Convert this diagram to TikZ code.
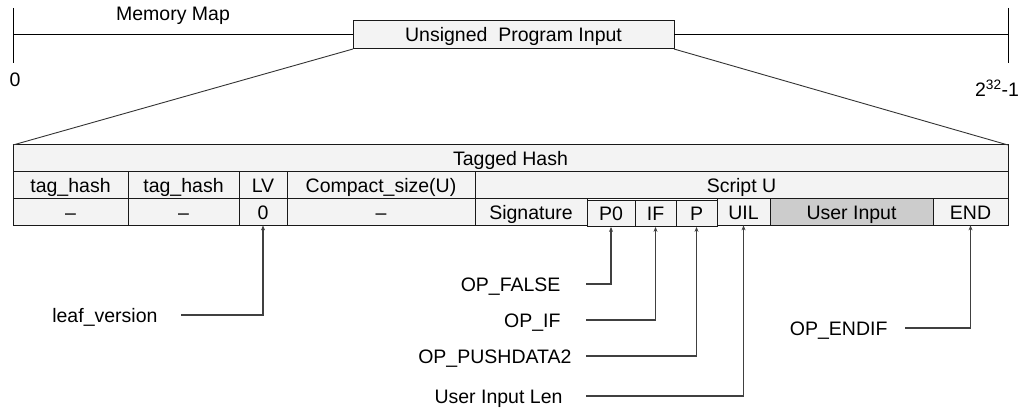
\documentclass[tikz,border=0pt]{standalone}
\usepackage{fontspec}
\setmainfont{Liberation Sans}
\usetikzlibrary{arrows.meta, positioning}
\definecolor{cellgray}{HTML}{F3F3F3}
\definecolor{inputgray}{HTML}{CCCCCC}
\definecolor{linkgray}{HTML}{404040}
\tikzset{every node/.style = {font = \fontsize{19.5}{22}\selectfont,
                              text height = 18pt, text depth = 4pt},
         cell/.style = {draw = black!90, fill = cellgray, line width = 1pt,
                        minimum height = 26.8pt, inner sep = 0pt, outer sep = 0pt},
         link/.style = {draw = linkgray, line width = 1.1pt,
                        -{Stealth[length = 5pt, width = 4pt]}},
         zoomline/.style = {draw = black!80, line width = 0.9pt}}

\begin{document}
\begin{tikzpicture}[x = 1pt, y = -1pt]
        \useasboundingbox (0,0) rectangle (1030,414);

        \node[cell, minimum width = 321pt, minimum height = 28pt, anchor = north west]
                                        (upi)   at (353,21)     {Unsigned\ \ Program Input};
        \node                           (mm)    at (173,14)     {Memory Map};
        \node                           (lo)    at (15,80)      {0};
        \node                           (hi)    at (997,90)     {2\textsuperscript{32}-1};
        \coordinate                     (m0)    at (13,35);
        \coordinate                     (m1)    at (1008,35);
        \draw[line width = 1pt] (13,8) -- (13,63);
        \draw[line width = 1pt] (1008,8) -- (1008,63);
        \draw[line width = 1pt] (m0) -- (upi.west);
        \draw[line width = 1pt] (upi.east) -- (m1);

        \node[cell, minimum width = 995pt, anchor = north west]
                                        (th)    at (13,145)     {Tagged Hash};

        \node[cell, minimum width = 115pt, below right = 0pt and 0pt of th.south west] (h1) {tag\_hash};
        \node[cell, minimum width = 111pt, right = 0pt of h1]  (h2)   {tag\_hash};
        \node[cell, minimum width = 48pt,  right = 0pt of h2]  (lv)   {LV};
        \node[cell, minimum width = 188pt, right = 0pt of lv]  (cs)   {Compact\_size(U)};
        \node[cell, minimum width = 533pt, right = 0pt of cs]  (su)   {Script U};

        \node[cell, minimum width = 115pt, below = 0pt of h1]  (v1)   {–};
        \node[cell, minimum width = 111pt, below = 0pt of h2]  (v2)   {–};
        \node[cell, minimum width = 48pt,  below = 0pt of lv]  (lv0)  {0};
        \node[cell, minimum width = 188pt, below = 0pt of cs]  (cs0)  {–};
        \node[cell, minimum width = 112pt, right = 0pt of cs0] (sig)  {Signature};
        \node[cell, minimum width = 48pt,  right = 0pt of sig, yshift = -1.5pt] (p0) {P0};
        \node[cell, minimum width = 41pt,  right = 0pt of p0]  (if)   {IF};
        \node[cell, minimum width = 41pt,  right = 0pt of if]  (pd)   {P};
        \node[cell, minimum width = 53pt,  right = 0pt of sig.east, xshift = 130pt, anchor = west] (uil) {UIL};
        \node[cell, minimum width = 163pt, fill = inputgray, right = 0pt of uil] (ui) {User Input};
        \node[cell, minimum width = 75pt,  right = 0pt of ui]  (end)  {END};

        \draw[zoomline] (upi.south west) -- (th.north west);
        \draw[zoomline] (upi.south east) -- (th.north east);

        \node[anchor = east]            (leaf)  at (161,315)    {leaf\_version};
        \node[anchor = east]            (opf)   at (564,284)    {OP\_FALSE};
        \node[anchor = east]            (opif)  at (564,320)    {OP\_IF};
        \node[anchor = east]            (oppd)  at (575,356)    {OP\_PUSHDATA2};
        \node[anchor = east]            (uilen) at (566,396)    {User Input Len};
        \node[anchor = east]            (opend) at (891,328)    {OP\_ENDIF};
        \coordinate                     (tap)   at (586,0);

        \draw[link] ([xshift = 20pt]leaf.east) -| (lv0.south);
        \draw[link] (tap |- opf.east)   -| (p0.south);
        \draw[link] (tap |- opif.east)  -| (if.south);
        \draw[link] (tap |- oppd.east)  -| (pd.south);
        \draw[link] (tap |- uilen.east) -| (uil.south);
        \draw[link] ([xshift = 14pt]opend.east) -| (end.south);
\end{tikzpicture}
\end{document}
